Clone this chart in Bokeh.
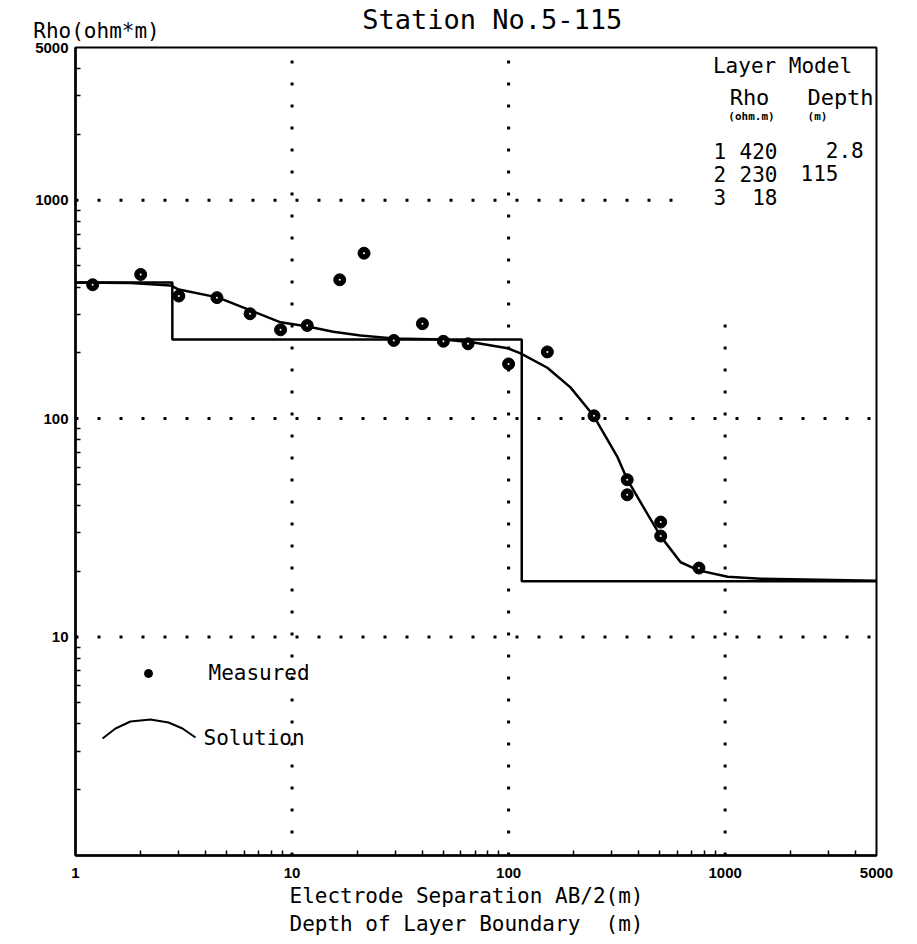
import math
from bokeh.plotting import figure
from bokeh.models import (Label, FixedTicker, PrintfTickFormatter, Range1d, Title,
                          LogAxis, CustomJSTickFormatter)
from bokeh.embed import file_html
from bokeh.resources import INLINE

# ---------------- data ----------------
ab2 = [1.2, 2.0, 3.0, 4.5, 6.4, 8.85, 11.75, 16.6, 21.5, 29.5, 40, 50, 65,
       100, 151, 248, 353, 353, 504, 504, 757]
rho_meas = [410, 457, 364, 358, 302, 255, 267, 432, 572, 228, 272, 226, 220,
            178, 202, 103, 52.5, 44.8, 33.6, 29.0, 20.7]

sol_x = [1.0, 1.8, 2.75, 3.0, 4.53, 6.43, 8.85, 11.8, 15.5, 20.7, 29.5, 50.2,
         68.9, 99, 113.6, 151, 193, 247, 319, 353, 420, 504, 623, 754, 1027,
         1459, 5000]
sol_y = [420, 418, 407, 390, 359, 313, 276, 264, 250, 240, 233, 230.5,
         223, 210, 199, 171, 139, 103, 66.4, 52.7, 39.2, 28.9, 22.0, 20.2,
         18.9, 18.5, 18.1]

layer_no = ["1", "2", "3"]
layer_rho = [420, 230, 18]
layer_depth = [2.8, 115]

x_major = [1, 10, 100, 1000, 5000]
y_major = [10, 100, 1000, 5000]
grid_decades = [10, 100, 1000]

TITLE = "Station No.5-115"
Y_TITLE = "Rho(ohm*m)"
X_TITLE_1 = "Electrode Separation AB/2(m)"
X_TITLE_2 = "Depth of Layer Boundary  (m)"

XMIN, XMAX, YMIN, YMAX = 1, 5000, 1, 5000

# ---------------- layout ----------------
FL, FR, FT, FB = 75, 876, 47, 855          # frame in canvas pixels
XPD = (FR - FL) / math.log10(XMAX / XMIN)
YPD = (FB - FT) / math.log10(YMAX / YMIN)
NB = "\u00a0"
MONO = "DejaVu Sans Mono"


def xd(px):
    return XMIN * 10 ** ((px - FL) / XPD)


def yd(py):
    return YMIN * 10 ** ((FB - py) / YPD)


p = figure(x_axis_type="log", y_axis_type="log",
           x_range=Range1d(XMIN, XMAX), y_range=Range1d(YMIN, YMAX),
           frame_width=FR - FL, frame_height=FB - FT,
           min_border_left=FL, min_border_top=FT,
           min_border_right=30, min_border_bottom=85,
           output_backend="svg", toolbar_location=None, title=None)
p.grid.visible = False
p.outline_line_color = "black"
p.outline_line_width = 2
p.background_fill_color = "white"
p.border_fill_color = "white"

minor = [m * 10 ** k for k in range(4) for m in range(2, 10) if m * 10 ** k < XMAX]
p.xaxis.ticker = FixedTicker(ticks=x_major, minor_ticks=minor)
p.yaxis.ticker = FixedTicker(ticks=y_major, minor_ticks=minor)
for ax in (p.xaxis[0], p.yaxis[0]):
    ax.formatter = PrintfTickFormatter(format="%d")
    ax.axis_line_width = 2.5
    ax.axis_line_color = "black"
    ax.major_tick_in = 0
    ax.major_tick_out = 0
    ax.minor_tick_in = 5
    ax.minor_tick_out = 0
    ax.minor_tick_line_width = 1.5
    ax.minor_tick_line_color = "black"
    ax.major_label_text_font = "Liberation Sans"
    ax.major_label_text_font_style = "bold"
    ax.major_label_text_font_size = "15px"
    ax.major_label_text_color = "black"
p.xaxis.major_label_standoff = 12
p.yaxis.major_label_standoff = 7

# top: y-axis title as a single tick label, chart title as the axis label
top = LogAxis(ticker=FixedTicker(ticks=[xd(96)]),
              formatter=CustomJSTickFormatter(code=f"return '{Y_TITLE}'"),
              axis_line_color=None, major_tick_line_color=None,
              minor_tick_line_color=None, major_tick_in=0, major_tick_out=0,
              major_label_standoff=5, major_label_text_font=MONO,
              major_label_text_font_size="21px", major_label_text_color="black",
              axis_label=NB * 2 + TITLE, axis_label_standoff=-19,
              axis_label_text_font=MONO, axis_label_text_font_size="27px",
              axis_label_text_font_style="normal", axis_label_text_color="black")
p.add_layout(top, "above")

# dotted grid
GRID_STYLE = dict(line_color="black", line_width=3, line_dash="3 19")
grid_ylim = {10: YMAX, 100: YMAX, 1000: 300}
grid_xlim = {10: XMAX, 100: XMAX, 1000: 620}
for g in grid_decades:
    p.segment(x0=[g], y0=[YMIN], x1=[g], y1=[grid_ylim[g]], **GRID_STYLE)
    p.segment(x0=[XMIN], y0=[g], x1=[grid_xlim[g]], y1=[g], **GRID_STYLE)

# layer model step line
step_x, step_y = [XMIN], [layer_rho[0]]
for i, d in enumerate(layer_depth):
    step_x += [d, d]
    step_y += [layer_rho[i], layer_rho[i + 1]]
step_x.append(XMAX)
step_y.append(layer_rho[-1])
p.line(step_x, step_y, line_color="black", line_width=2.5)

# solution curve
p.line(sol_x, sol_y, line_color="black", line_width=2.5)

# measured points
p.scatter(ab2, rho_meas, size=12, fill_color="black", line_color="black")
p.scatter(ab2, rho_meas, size=2, fill_color="white", line_color=None)


def lab(px, py, text, size, align="left", style="normal", font=MONO):
    """py is the vertical centre of the text line in canvas pixels."""
    p.add_layout(Label(x=xd(px), y=yd(py), text=text, text_align=align,
                       text_baseline="middle", text_font=font,
                       text_font_size=f"{size}px", text_font_style=style,
                       text_color="black"))


# Layer model table
lab(782, 65, "Layer Model", 21, "center")
lab(749, 97, "Rho", 22, "center")
lab(840, 97, "Depth", 22, "center")
lab(751, 116, "(ohm.m)", 11, "center", "bold")
lab(817, 116, "(m)", 11, "center", "bold")
row_mid = [150, 173, 196]
for i, n in enumerate(layer_no):
    lab(713, row_mid[i], n, 21)
    lab(777, row_mid[i], f"{layer_rho[i]:g}", 21, "right")
    if i < len(layer_depth):
        d = layer_depth[i]
        txt = f"{d:5.1f}" if d != int(d) else f"{int(d):<5d}"
        lab(800, row_mid[i], txt.replace(" ", NB), 21)

# legend
p.scatter([xd(148)], [yd(673)], size=8, fill_color="black", line_color="black")
lab(208, 672, "Measured", 21)
arc_px = [102, 115, 130, 150, 168, 182, 195]
arc_py = [738, 728, 721, 719, 722, 728, 737]
p.line([xd(v) for v in arc_px], [yd(v) for v in arc_py], line_color="black", line_width=2)
lab(203, 737, "Solution", 21)

# x axis title (two lines)
for t, so in [(X_TITLE_1, 3), (X_TITLE_2.replace(" ", NB), 0)]:
    p.add_layout(Title(text=t, align="left", offset=289 - FL, standoff=so,
                       text_font=MONO, text_font_size="21px",
                       text_font_style="normal", text_color="black"), "below")

open("out.html", "w").write(file_html(p, INLINE))
